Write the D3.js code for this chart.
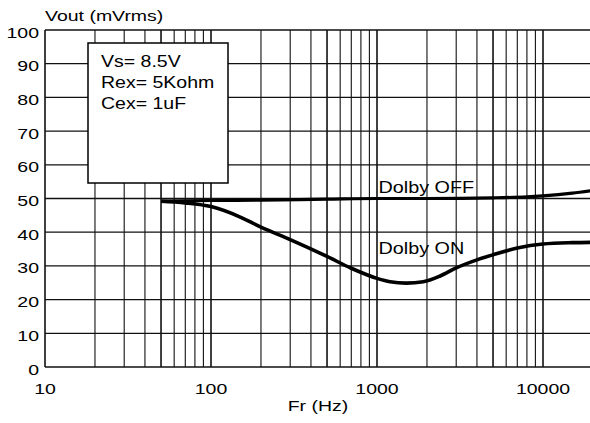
<!DOCTYPE html>
<html><head><meta charset="utf-8">
<script src="https://cdn.jsdelivr.net/npm/d3@7"></script>
<style>
html,body{margin:0;padding:0;background:#fff;}
svg{display:block;}
text{font-family:"Liberation Sans",Arial,Helvetica,sans-serif;fill:#000;}
</style></head>
<body>
<svg id="c" width="590" height="423"></svg>
<script>
// ---- data ----
const xTickLabels = [10, 100, 1000, 10000];
const yTickLabels = [0, 10, 20, 30, 40, 50, 60, 70, 80, 90, 100];
const freqOn  = [50, 70, 100, 150, 200, 300, 500, 700, 1000, 1200, 1500, 1900, 2400, 3000, 4000, 5000, 7000, 10000, 15000, 20000];
const dolbyOn = [49.2, 48.7, 47.6, 44.5, 41.5, 37.8, 32.8, 29.3, 26.3, 25.3, 24.9, 25.3, 27.0, 29.4, 31.8, 33.3, 35.3, 36.5, 36.9, 37.0];
const freqOff  = [50, 70, 100, 200, 500, 1000, 2000, 5000, 8000, 10000, 15000, 20000];
const dolbyOff = [49.2, 49.3, 49.4, 49.5, 49.8, 50.0, 50.0, 50.2, 50.5, 50.8, 51.6, 52.4];
const conditions = ["Vs= 8.5V", "Rex= 5Kohm", "Cex= 1uF"];
const seriesLabels = ["Dolby OFF", "Dolby ON"];

// ---- layout ----
const svg = d3.select("#c");
const x = d3.scaleLog().domain([10, 10000]).range([45, 543]);
const y = d3.scaleLinear().domain([0, 100]).range([367, 30]);
const xMax = 20000;

function label(str, px, py, anchor, size, sx) {
  return svg.append("text")
    .attr("transform", `translate(${px},${py}) scale(${sx},1)`)
    .attr("text-anchor", anchor)
    .style("font-size", size + "px")
    .text(str);
}

// grid: vertical lines at every log subdivision
const vTicks = [];
for (let d = 10; d < xMax; d *= 10) {
  for (let k = 1; k <= 9; k++) { const f = d * k; if (f <= xMax) vTicks.push(f); }
}
const grid = svg.append("g");
grid.selectAll("line.v").data(vTicks).enter().append("line")
  .attr("class", "v")
  .attr("x1", d => x(d)).attr("x2", d => x(d))
  .attr("y1", y(0)).attr("y2", y(100))
  .attr("stroke", "#111")
  .attr("stroke-width", d => { const m = d / Math.pow(10, Math.floor(Math.log10(d) + 1e-9)); return (m === 1 || m === 5) ? 1.6 : 1.1; });
grid.selectAll("line.h").data(yTickLabels).enter().append("line")
  .attr("class", "h")
  .attr("x1", x(10)).attr("x2", x(xMax))
  .attr("y1", d => y(d)).attr("y2", d => y(d))
  .attr("stroke", "#111")
  .attr("stroke-width", d => (d === 0 || d === 100) ? 1.6 : 1.3);

// tick labels
yTickLabels.forEach(v => label(String(v), 39, y(v) + 7.5, "end", 15, 1.3));
xTickLabels.forEach(f => label(String(f), x(f), 394, "middle", 15, 1.3));

// axis titles
label("Vout (mVrms)", 45, 20.5, "start", 15, 1.3);
label("Fr (Hz)", 318, 411, "middle", 15, 1.3);

// conditions box
svg.append("rect")
  .attr("x", 88).attr("y", 43).attr("width", 140).attr("height", 140)
  .attr("fill", "#fff").attr("stroke", "#000").attr("stroke-width", 1.5);
conditions.forEach((t, i) => label(t, 101, 66.5 + i * 21, "start", 16, 1.22));

// curves
const line = d3.line().x(d => x(d[0])).y(d => y(d[1])).curve(d3.curveMonotoneX);
svg.append("path").datum(d3.zip(freqOff, dolbyOff))
  .attr("d", line).attr("fill", "none").attr("stroke", "#000").attr("stroke-width", 3.2);
svg.append("path").datum(d3.zip(freqOn, dolbyOn))
  .attr("d", line).attr("fill", "none").attr("stroke", "#000").attr("stroke-width", 3.6);

// series labels
label(seriesLabels[0], 378.5, 192.5, "start", 16.5, 1.2);
label(seriesLabels[1], 378.5, 253.5, "start", 16.5, 1.2);
</script>
</body></html>
